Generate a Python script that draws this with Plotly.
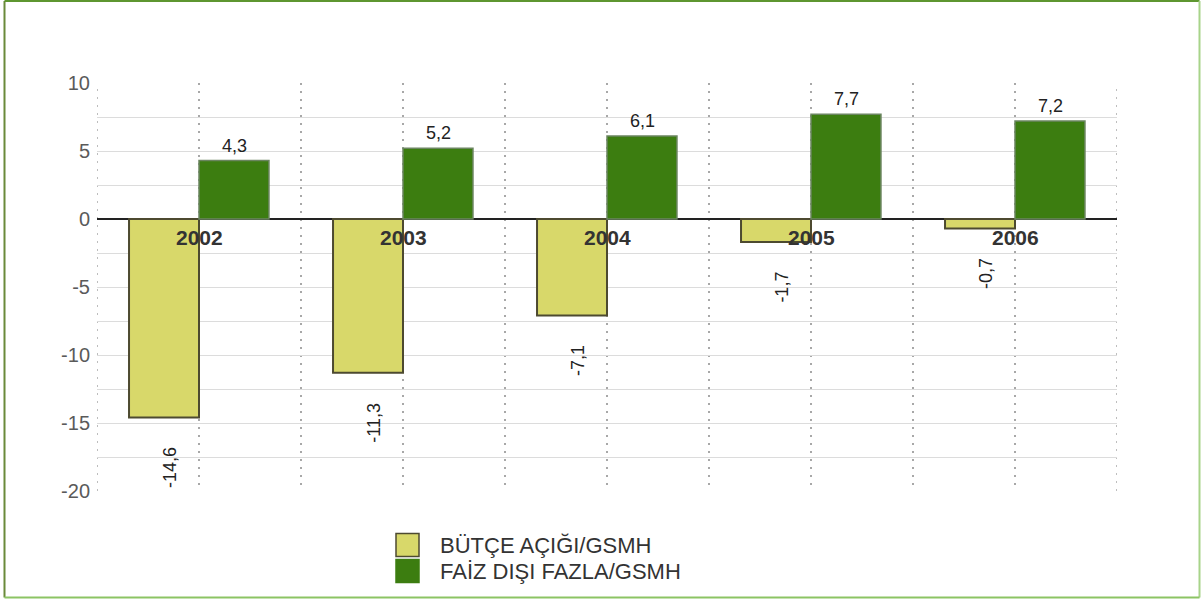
import plotly.graph_objects as go

# --- data -------------------------------------------------------------
years = [2002, 2003, 2004, 2005, 2006]
butce_acigi = [-14.6, -11.3, -7.1, -1.7, -0.7]      # BÜTÇE AÇIĞI/GSMH
faiz_disi_fazla = [4.3, 5.2, 6.1, 7.7, 7.2]         # FAİZ DIŞI FAZLA/GSMH
series_names = ["BÜTÇE AÇIĞI/GSMH", "FAİZ DIŞI FAZLA/GSMH"]
y_ticks = [10, 5, 0, -5, -10, -15, -20]

# --- styling ----------------------------------------------------------
W, H = 1203, 599
ML, MR, MT, MB = 97, 86, 83, 108
PW, PH = W - ML - MR, H - MT - MB
FONT = "Liberation Sans, Arial, sans-serif"
YELLOW, YELLOW_EDGE = "#d8d86a", "#4d4a30"
GREEN, GREEN_EDGE = "#3c7d10", "#6b8560"
DOT_COLOR, DOT_DASH = "#a8a8a8", "2px,6px"


def px(x):
    """pixel column -> paper x"""
    return (x - ML) / PW


def py(y):
    """pixel row -> paper y"""
    return (H - MB - y) / PH


def fmt(v):
    return f"{v:.1f}".replace(".", ",")


fig = go.Figure()
fig.add_trace(go.Bar(
    x=years, y=butce_acigi, name=series_names[0],
    marker=dict(color=YELLOW, line=dict(color=YELLOW_EDGE, width=2)),
    showlegend=False,
))
fig.add_trace(go.Bar(
    x=years, y=faiz_disi_fazla, name=series_names[1],
    marker=dict(color=GREEN, line=dict(color=GREEN_EDGE, width=1.5)),
    showlegend=False,
))

annotations = []
# value labels
for yr, v in zip(years, butce_acigi):
    annotations.append(dict(
        x=yr, y=v, xref="x", yref="y", text=fmt(v), showarrow=False,
        textangle=-90, xanchor="center", yanchor="top",
        xshift=-29, yshift=-28,
        font=dict(family=FONT, size=18, color="#222"),
    ))
for yr, v in zip(years, faiz_disi_fazla):
    annotations.append(dict(
        x=yr, y=v, xref="x", yref="y", text=fmt(v), showarrow=False,
        xanchor="center", yanchor="bottom", xshift=35, yshift=3,
        font=dict(family=FONT, size=18, color="#222"),
    ))
# year labels under the zero line
for yr in years:
    annotations.append(dict(
        x=yr, y=0, xref="x", yref="y", text=str(yr), showarrow=False,
        xanchor="center", yanchor="top", yshift=-5,
        font=dict(family=FONT, size=21, color="#333", weight="bold"),
    ))

shapes = []
# dotted lines on the left and right edges of the plot area
for edge_x in (years[0] - 0.5, years[-1] + 0.5):
    shapes.append(dict(
        type="line", xref="x", yref="paper", x0=edge_x, x1=edge_x, y0=0, y1=1,
        line=dict(color=DOT_COLOR, width=1.5, dash=DOT_DASH), layer="below",
    ))

# legend drawn as swatches + labels
legend_colors = [(YELLOW, YELLOW_EDGE), (GREEN, GREEN)]
legend_rows = [545, 571]
for name, (fill, edge), row in zip(series_names, legend_colors, legend_rows):
    shapes.append(dict(
        type="rect", xref="paper", yref="paper",
        x0=px(396), x1=px(419), y0=py(row - 11.5), y1=py(row + 11.5),
        fillcolor=fill, line=dict(color=edge, width=1.5),
    ))
    annotations.append(dict(
        x=px(438), y=py(row), xref="paper", yref="paper", text=name,
        showarrow=False, xanchor="left", yanchor="middle",
        font=dict(family=FONT, size=22, color="#333"),
    ))

# outer frame
shapes += [
    dict(type="line", xref="paper", yref="paper", x0=px(4.5), x1=px(4.5),
         y0=py(1), y1=py(597.5), line=dict(color="#6a8a3a", width=2)),
    dict(type="line", xref="paper", yref="paper", x0=px(4.5), x1=px(1199.5),
         y0=py(1), y1=py(1), line=dict(color="#5e9630", width=2)),
    dict(type="line", xref="paper", yref="paper", x0=px(1199.5), x1=px(1199.5),
         y0=py(1), y1=py(597.5), line=dict(color="#a8d48a", width=2)),
    dict(type="line", xref="paper", yref="paper", x0=px(4.5), x1=px(1199.5),
         y0=py(597.5), y1=py(597.5), line=dict(color="#8cc464", width=2)),
]

fig.update_layout(
    width=W, height=H,
    margin=dict(l=ML, r=MR, t=MT, b=MB, pad=0),
    paper_bgcolor="white", plot_bgcolor="white",
    barmode="group", bargap=0.314, bargroupgap=0,
    font=dict(family=FONT),
    annotations=annotations, shapes=shapes,
    xaxis=dict(
        range=[years[0] - 0.5, years[-1] + 0.5],
        dtick=0.5, tick0=years[0] - 0.5,
        showgrid=True, gridcolor=DOT_COLOR, griddash=DOT_DASH, gridwidth=1.5,
        showticklabels=False, zeroline=False, showline=False, ticks="",
    ),
    yaxis=dict(
        range=[y_ticks[-1], y_ticks[0]],
        tickvals=y_ticks, ticktext=[str(t) for t in y_ticks],
        showgrid=True, gridcolor="#dcdcdc", gridwidth=1,
        minor=dict(dtick=2.5, showgrid=True, gridcolor="#dcdcdc", gridwidth=1),
        zeroline=True, zerolinecolor="#222", zerolinewidth=2,
        showline=False, ticks="", ticklabelstandoff=6,
        tickfont=dict(family=FONT, size=20, color="#5a5a5a"),
    ),
)

fig.write_html("out.html")
